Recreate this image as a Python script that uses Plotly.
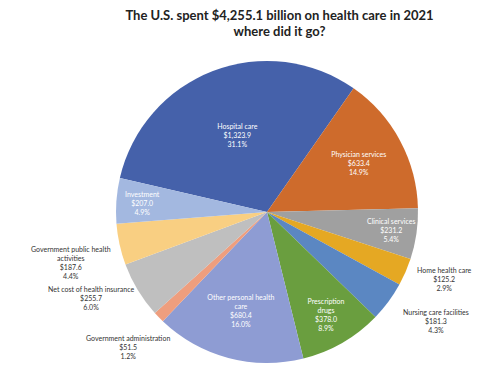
import math
import plotly.graph_objects as go

categories = ["Hospital care", "Physician services", "Clinical services", "Home health care",
              "Nursing care facilities", "Prescription<br>drugs", "Other personal health<br>care",
              "Government administration", "Net cost of health insurance",
              "Government public health<br>activities", "Investment"]
spending = [1323.9, 633.4, 231.2, 125.2, 181.3, 378.0, 680.4, 51.5, 255.7, 187.6, 207.0]
colors = ["#4561AA", "#CE6B2C", "#A0A0A0", "#E5A823", "#5B87C2", "#6A9E3F",
          "#8E9CD3", "#EE9E7E", "#BFBFBF", "#F9CF82", "#A3B8E0"]

# label placement style: "pie" = plotly inside text, "in" = annotation inside slice,
# "out" = annotation outside the pie
label_mode = ["pie", "pie", "in", "out", "out", "pie", "pie", "out", "out", "out", "in"]
# small pixel nudges for outside labels (screen px: right, down)
label_nudge = [(0, 0), (0, 0), (0, 0), (0, 3), (4, 13), (0, 0), (0, 0),
               (20, 23), (7, 3), (3, 16), (0, 0)]

W, H = 500, 376
dom_x = [0.232, 0.836]
dom_y = [0.0346, 0.8378]
rotation = 283
radius_px = (dom_x[1] - dom_x[0]) * W / 2

positions = ["inside" if m == "pie" else "none" for m in label_mode]

fig = go.Figure(go.Pie(
    labels=categories,
    values=spending,
    sort=False,
    direction="clockwise",
    rotation=rotation,
    marker=dict(colors=colors, line=dict(width=0)),
    texttemplate="%{label}<br>$%{value:,.1f}<br>%{percent:.1%}",
    textposition=positions,
    textfont=dict(family="Lato", size=7, color="#FFFFFF"),
    insidetextorientation="horizontal",
    hoverinfo="label+value+percent",
    showlegend=False,
    domain=dict(x=dom_x, y=dom_y),
))

total = sum(spending)
cx = (dom_x[0] + dom_x[1]) / 2
cy = (dom_y[0] + dom_y[1]) / 2
cum = 0.0
annotations = []
for lab, val, mode, (nx, ny) in zip(categories, spending, label_mode, label_nudge):
    mid = math.radians(rotation + 360 * (cum + val / 2) / total)
    cum += val
    if mode == "pie":
        continue
    sx, sy = math.sin(mid), math.cos(mid)
    txt = f"{lab}<br>${val:,.1f}<br>{100 * val / total:.1f}%"
    if mode == "in":
        rr = 0.83 * radius_px
        annotations.append(dict(
            x=cx + rr * sx / W, y=cy + rr * sy / H, xref="paper", yref="paper",
            text=txt, showarrow=False, align="center",
            xanchor="center", yanchor="middle",
            font=dict(family="Lato", size=7, color="#FFFFFF")))
    else:
        rr = radius_px + 10
        annotations.append(dict(
            x=cx + (rr * sx + nx) / W, y=cy + (rr * sy - ny) / H,
            xref="paper", yref="paper",
            text=txt, showarrow=False, align="center",
            xanchor="left" if sx > 0 else "right", yanchor="middle",
            font=dict(family="Lato", size=7, color="#333333")))

fig.update_layout(
    width=W, height=H,
    margin=dict(l=0, r=0, t=0, b=0),
    paper_bgcolor="white",
    annotations=annotations,
    title=dict(
        text="<b>The U.S. spent $4,255.1 billion on health care in 2021<br>where did it go?</b>",
        x=0.559, xanchor="center", y=0.948, yanchor="top",
        font=dict(family="Lato", size=13, color="#222222"),
    ),
)

fig.write_html("out.html", config={"displayModeBar": False},
               post_script="document.body.style.margin='0px';")
